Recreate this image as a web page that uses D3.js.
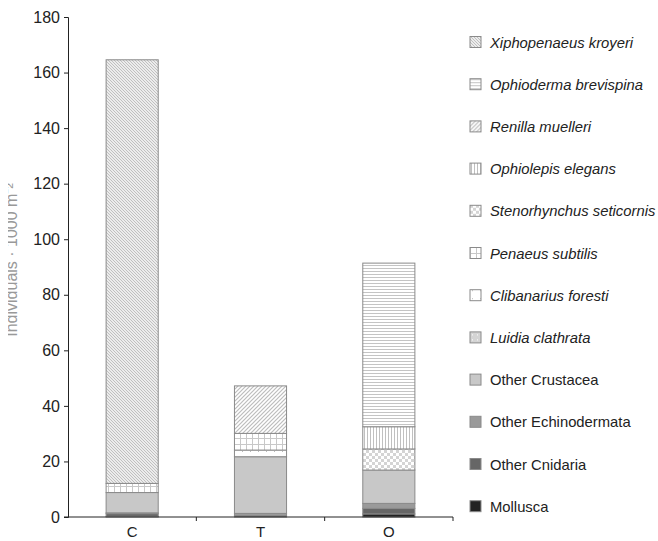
<!DOCTYPE html>
<html>
<head>
<meta charset="utf-8">
<script src="https://cdn.jsdelivr.net/npm/d3@7"></script>
<style>
  body { margin: 0; background: #fff; }
  svg { display: block; font-family: "Liberation Sans", Arial, sans-serif; }
</style>
</head>
<body>
<div id="chart"></div>
<script>
// sites on the x axis
const categories = ['C', 'T', 'O'];

// taxa, stacked bottom to top
const taxa = ['Mollusca', 'Other Cnidaria', 'Other Echinodermata', 'Other Crustacea',
  'Luidia clathrata', 'Clibanarius foresti', 'Penaeus subtilis', 'Stenorhynchus seticornis',
  'Ophiolepis elegans', 'Renilla muelleri', 'Ophioderma brevispina', 'Xiphopenaeus kroyeri'];

// which names are species (italic in the legend)
const italicTaxa = ['Luidia clathrata', 'Clibanarius foresti', 'Penaeus subtilis',
  'Stenorhynchus seticornis', 'Ophiolepis elegans', 'Renilla muelleri',
  'Ophioderma brevispina', 'Xiphopenaeus kroyeri'];

// individuals per 1000 m2, values for C, T, O
const mollusca      = [0.2, 0.0, 1.1];
const otherCnidaria = [1.0, 0.5, 2.0];
const otherEchino   = [0.3, 0.8, 1.8];
const otherCrust    = [7.3, 20.4, 12.0];
const luidia        = [0.0, 0.0, 0.0];
const clibanarius   = [0.0, 2.4, 0.0];
const penaeus       = [3.3, 6.0, 0.0];
const stenorhynchus = [0.0, 0.0, 7.6];
const ophiolepis    = [0.0, 0.0, 8.0];
const renilla       = [0.0, 17.1, 0.0];
const ophioderma    = [0.0, 0.0, 58.9];
const xiphopenaeus  = [152.5, 0.0, 0.0];

const yTicks = [0, 20, 40, 60, 80, 100, 120, 140, 160, 180];

const seriesValues = [mollusca, otherCnidaria, otherEchino, otherCrust, luidia, clibanarius,
  penaeus, stenorhynchus, ophiolepis, renilla, ophioderma, xiphopenaeus];

// table for d3.stack
const table = categories.map((c, i) => {
  const row = {cat: c};
  taxa.forEach((t, j) => row[t] = seriesValues[j][i]);
  return row;
});

const W = 658, H = 541;
const svg = d3.select('#chart').append('svg').attr('width', W).attr('height', H);
const defs = svg.append('defs');

// fill patterns
function linePattern(id, size, lines, bg, col, sw) {
  const p = defs.append('pattern').attr('id', id).attr('patternUnits', 'userSpaceOnUse')
    .attr('width', size).attr('height', size);
  p.append('rect').attr('width', size).attr('height', size).attr('fill', bg);
  lines.forEach(l => p.append('line').attr('x1', l[0]).attr('y1', l[1]).attr('x2', l[2]).attr('y2', l[3])
    .attr('stroke', col).attr('stroke-width', sw));
}
linePattern('p-xipho', 3, [[-1, -1, 4, 4], [-1, 2, 1, 4], [2, -1, 4, 1]], '#fff', '#bdbdbd', 1.1);
linePattern('p-ophioderma', 3, [[0, 1.5, 3, 1.5]], '#fff', '#c4c4c4', 1);
linePattern('p-renilla', 4, [[-1, 5, 5, -1], [-1, 1, 1, -1], [3, 5, 5, 3]], '#fff', '#bdbdbd', 1.2);
linePattern('p-ophiolepis', 3, [[1.5, 0, 1.5, 3]], '#fff', '#c0c0c0', 1);
linePattern('p-penaeus', 6, [[0, 0.5, 6, 0.5], [0.5, 0, 0.5, 6]], '#fff', '#c8c8c8', 1);
(function () {
  const p = defs.append('pattern').attr('id', 'p-steno').attr('patternUnits', 'userSpaceOnUse')
    .attr('width', 6).attr('height', 6);
  p.append('rect').attr('width', 6).attr('height', 6).attr('fill', '#fff');
  p.append('rect').attr('width', 3).attr('height', 3).attr('fill', '#d4d4d4');
  p.append('rect').attr('x', 3).attr('y', 3).attr('width', 3).attr('height', 3).attr('fill', '#d4d4d4');
  const q = defs.append('pattern').attr('id', 'p-clib').attr('patternUnits', 'userSpaceOnUse')
    .attr('width', 8).attr('height', 8);
  q.append('rect').attr('width', 8).attr('height', 8).attr('fill', '#fff');
  q.append('rect').attr('x', 2).attr('y', 3).attr('width', 1).attr('height', 1).attr('fill', '#bbb');
  const r = defs.append('pattern').attr('id', 'p-luidia').attr('patternUnits', 'userSpaceOnUse')
    .attr('width', 5).attr('height', 5);
  r.append('rect').attr('width', 5).attr('height', 5).attr('fill', '#d4d4d4');
  r.append('rect').attr('x', 2).attr('y', 2).attr('width', 1).attr('height', 1).attr('fill', '#fff');
})();

const fills = {
  'Mollusca': '#222',
  'Other Cnidaria': '#666',
  'Other Echinodermata': '#9a9a9a',
  'Other Crustacea': '#c8c8c8',
  'Luidia clathrata': 'url(#p-luidia)',
  'Clibanarius foresti': 'url(#p-clib)',
  'Penaeus subtilis': 'url(#p-penaeus)',
  'Stenorhynchus seticornis': 'url(#p-steno)',
  'Ophiolepis elegans': 'url(#p-ophiolepis)',
  'Renilla muelleri': 'url(#p-renilla)',
  'Ophioderma brevispina': 'url(#p-ophioderma)',
  'Xiphopenaeus kroyeri': 'url(#p-xipho)'
};

const x = d3.scaleBand().domain(categories).range([68, 453]).paddingInner(0.594).paddingOuter(0.297);
const y = d3.scaleLinear().domain([0, 180]).range([517, 17]);

const stacked = d3.stack().keys(taxa)(table);

// bars
const layers = svg.append('g').selectAll('g').data(stacked).join('g')
  .attr('fill', d => fills[d.key]);
layers.selectAll('rect').data(d => d.filter(s => s[1] - s[0] > 0)).join('rect')
  .attr('x', d => x(d.data.cat))
  .attr('width', x.bandwidth())
  .attr('y', d => y(d[1]))
  .attr('height', d => y(d[0]) - y(d[1]))
  .attr('stroke', '#8a8a8a')
  .attr('stroke-width', 1);

// y axis
const yAxis = d3.axisLeft(y).tickValues(yTicks).tickSize(4).tickPadding(4);
const yg = svg.append('g').attr('transform', 'translate(68,0)').call(yAxis);
yg.select('.domain').attr('stroke', '#222');
yg.selectAll('.tick line').attr('stroke', '#222');
yg.selectAll('text').attr('font-size', 16).attr('fill', '#222')
  .attr('font-family', '"Liberation Sans", Arial, sans-serif');

// x axis: baseline with tick marks at band boundaries
const xg = svg.append('g');
xg.append('line').attr('x1', 64).attr('x2', x.range()[1]).attr('y1', y(0)).attr('y2', y(0))
  .attr('stroke', '#222');
const bounds = categories.map(c => x(c) + x.bandwidth() + x.step() * x.paddingOuter());
xg.selectAll('line.tk').data(bounds).join('line').attr('class', 'tk')
  .attr('x1', d => d).attr('x2', d => d).attr('y1', y(0)).attr('y2', y(0) + 4)
  .attr('stroke', '#222');
xg.selectAll('text').data(categories).join('text')
  .attr('x', d => x(d) + x.bandwidth() / 2).attr('y', 537)
  .attr('text-anchor', 'middle').attr('font-size', 15).attr('fill', '#222')
  .text(d => d);

// y axis title (clipped at the left edge, as in the source)
svg.append('clipPath').attr('id', 'ytclip').append('rect')
  .attr('x', 8).attr('y', 0).attr('width', 20).attr('height', H);
svg.append('g').attr('clip-path', 'url(#ytclip)')
  .append('text')
  .attr('transform', 'translate(17,260) rotate(-90)')
  .attr('text-anchor', 'middle').attr('font-size', 16).attr('fill', '#999')
  .text('Individuals · 1000 m⁻²');

// legend, top entry is the top of the stack
const legendOrder = taxa.slice().reverse();
const lg = svg.append('g').selectAll('g').data(legendOrder).join('g')
  .attr('transform', (d, i) => `translate(470,${42 + i * 42.2})`);
lg.append('rect').attr('x', 0).attr('y', -5.5).attr('width', 11).attr('height', 11)
  .attr('fill', d => fills[d]).attr('stroke', '#8a8a8a');
lg.append('text').attr('x', 20).attr('y', 5.5).attr('fill', '#222')
  .attr('font-size', 14.8)
  .attr('font-style', d => italicTaxa.includes(d) ? 'italic' : 'normal')
  .text(d => d);
</script>
</body>
</html>
